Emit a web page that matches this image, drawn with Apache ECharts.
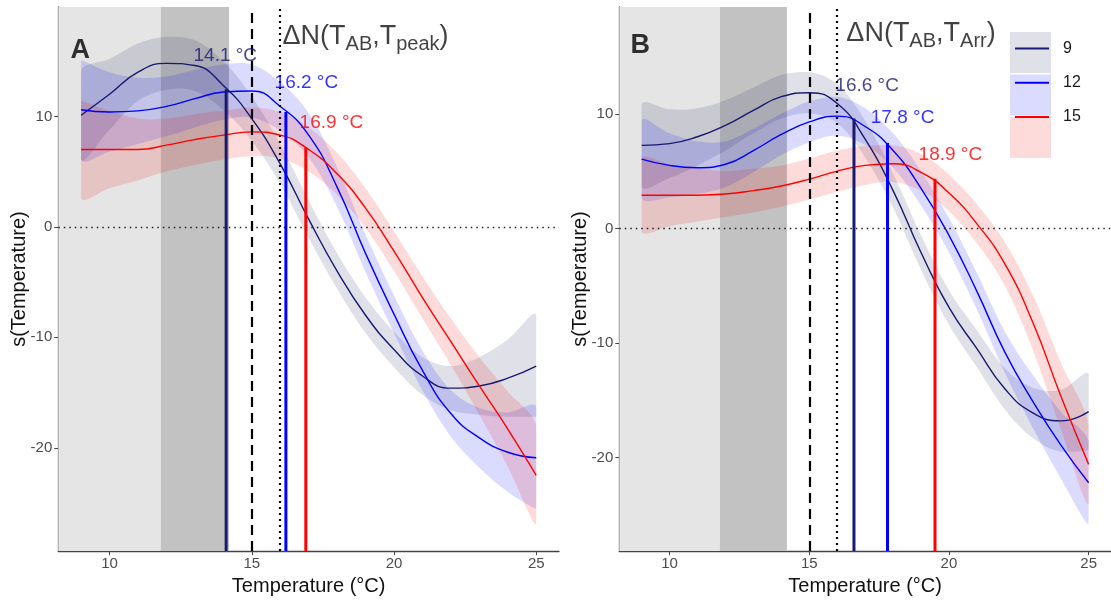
<!DOCTYPE html>
<html><head><meta charset="utf-8">
<script src="https://cdn.jsdelivr.net/npm/echarts@6/dist/echarts.min.js"></script>
<style>html,body{margin:0;padding:0;background:#fff}#c{width:1111px;height:601px}</style>
</head><body><div id="c"></div>
<script>
// ---------------- data ----------------
const temps = [9,10,11,12,13,14,15,16,17,18,19,20,21,22,23,24,25];
const groups = ['9','12','15'];

// Panel A: ΔN(T_AB, T_peak)
const fitA_9  = [10.1, 12.0, 14.0, 14.8, 14.6, 12.8, 9.8, 5.7, 0.7, -4.0, -8.0, -11.1, -13.5, -14.6, -14.4, -13.7, -12.6];
const fitA_12 = [10.6, 10.4, 10.5, 10.9, 11.6, 12.2, 12.3, 10.9, 8.3, 3.6, -2.4, -7.9, -13.0, -16.9, -19.1, -20.4, -20.9];
const fitA_15 = [7.0, 7.0, 7.0, 7.4, 7.9, 8.3, 8.6, 8.3, 7.0, 4.8, 1.7, -2.2, -6.4, -10.4, -14.4, -18.3, -22.5];
const seA_9   = [4.0, 3.2, 2.6, 2.4, 2.3, 2.2, 2.0, 1.8, 1.7, 1.6, 1.6, 1.6, 1.7, 2.0, 2.6, 3.5, 4.6];
const seA_12  = [4.5, 3.6, 3.0, 2.7, 2.6, 2.5, 2.4, 2.2, 2.0, 1.8, 1.7, 1.7, 1.8, 2.1, 2.7, 3.6, 4.6];
const seA_15  = [4.4, 3.5, 2.8, 2.4, 2.3, 2.2, 2.2, 2.1, 2.0, 1.9, 1.8, 1.8, 1.9, 2.1, 2.6, 3.4, 4.5];
const peakT_A = [14.1, 16.2, 16.9];
const peakS_A = [12.45, 10.4, 7.2];
const peakLabel_A = ['14.1 °C', '16.2 °C', '16.9 °C'];
const peakLabelX_A = [14.07, 16.92, 17.8];
const peakLabelY_A = [15.5, 13.0, 9.4];

// Panel B: ΔN(T_AB, T_Arr)
const fitB_9  = [7.25, 7.4, 8.0, 9.0, 10.3, 11.5, 11.85, 10.9, 7.8, 3.3, -2.1, -6.9, -10.5, -14.0, -16.1, -16.8, -16.0];
const fitB_12 = [6.05, 5.5, 5.3, 5.6, 6.8, 8.2, 9.3, 9.8, 8.9, 6.8, 3.5, -0.6, -5.5, -10.8, -15.1, -18.9, -22.2];
const fitB_15 = [2.9, 2.9, 2.9, 3.0, 3.3, 3.7, 4.3, 5.0, 5.5, 5.65, 4.9, 3.1, 0.4, -3.1, -8.2, -14.6, -20.6];
const seB_9   = [3.6, 3.0, 2.5, 2.2, 2.0, 1.9, 1.8, 1.7, 1.6, 1.5, 1.5, 1.5, 1.6, 1.8, 2.2, 2.7, 3.3];
const seB_12  = [3.4, 2.8, 2.3, 2.0, 1.9, 1.8, 1.8, 1.7, 1.6, 1.5, 1.5, 1.5, 1.6, 1.8, 2.3, 2.9, 3.6];
const seB_15  = [3.2, 2.7, 2.3, 2.0, 1.9, 1.8, 1.8, 1.8, 1.7, 1.6, 1.6, 1.6, 1.7, 1.9, 2.4, 2.9, 3.5];
const peakT_B = [16.6, 17.8, 19.5];
const peakS_B = [9.6, 7.46, 4.34];
const peakLabel_B = ['16.6 °C', '17.8 °C', '18.9 °C'];
const peakLabelX_B = [17.07, 18.34, 20.05];
const peakLabelY_B = [12.45, 9.7, 6.4];

// reference lines / shaded windows (temperature)
const refDashed = 15;
const refDotted = 16;
const shadeLight = [8.2, 11.8];
const shadeDark = [11.8, 14.2];
const xTicks = [10, 15, 20, 25];
const yTicks = [-20, -10, 0, 10];

// ---------------- style ----------------
const FONT = 'Liberation Sans, Arial, Helvetica, sans-serif';
const lineColors = ['#191970', '#0000FF', '#FF0000'];
const ribbonColors = ['rgba(30,35,90,0.14)', 'rgba(0,0,255,0.14)', 'rgba(240,0,0,0.14)'];

const panels = [
  { grid: {left: 58.3, right: 552, top: 7, bottom: 47.7}, xMin: 8.2, xMax: 25.8, yMin: -29.35, yMax: 19.9,
    fits: [fitA_9, fitA_12, fitA_15], ses: [seA_9, seA_12, seA_15],
    pT: peakT_A, pS: peakS_A, pLab: peakLabel_A, pLX: peakLabelX_A, pLY: peakLabelY_A,
    letter: 'A', letterPos: [8.97, 16.0], annot: '{m|ΔN(T}{s|AB}{m|,T}{s|peak}{m|)}', annotPos: [19.0, 17.2] },
  { grid: {left: 619.3, right: -8, top: 7, bottom: 47.7}, xMin: 8.2, xMax: 25.8, yMin: -28.17, yMax: 19.33,
    fits: [fitB_9, fitB_12, fitB_15], ses: [seB_9, seB_12, seB_15],
    pT: peakT_B, pS: peakS_B, pLab: peakLabel_B, pLX: peakLabelX_B, pLY: peakLabelY_B,
    letter: 'B', letterPos: [8.95, 16.0], annot: '{m|ΔN(T}{s|AB}{m|,T}{s|Arr}{m|)}', annotPos: [19.0, 17.0] }
];

function ribbon(p, k, P) {
  const fit = P.fits[k], se = P.ses[k];
  const rows = temps.map((t, i) => [t, fit[i] - se[i], fit[i] + se[i]]);
  return {
    type: 'custom', xAxisIndex: p, yAxisIndex: p, name: 'ci' + groups[k],
    color: ribbonColors[k], itemStyle: {color: ribbonColors[k]},
    data: rows, encode: {x: 0, y: [1, 2]}, silent: true, z: 2, clip: true,
    renderItem: function (params, api) {
      if (params.dataIndex !== 0) return null;
      const pts = [];
      for (let i = 0; i < rows.length; i++) pts.push(api.coord([rows[i][0], rows[i][2]]));
      for (let i = rows.length - 1; i >= 0; i--) pts.push(api.coord([rows[i][0], rows[i][1]]));
      return {type: 'polygon', shape: {points: pts, smooth: 0.35, smoothConstraint: [pts[0], pts[0]]},
              style: {fill: ribbonColors[k], stroke: null}};
    }
  };
}

const grids = [], xAxes = [], yAxes = [], series = [];
panels.forEach((P, p) => {
  grids.push(P.grid);
  xAxes.push({
    type: 'value', gridIndex: p, min: P.xMin, max: P.xMax,
    name: 'Temperature (°C)', nameLocation: 'middle', nameGap: 22,
    nameTextStyle: {fontFamily: FONT, fontSize: 20, color: '#111'},
    axisLine: {show: true, onZero: false, lineStyle: {color: '#444', width: 1.3}},
    axisTick: {show: true, length: 4, lineStyle: {color: '#444'}, customValues: xTicks},
    axisLabel: {fontFamily: FONT, fontSize: 15, color: '#4d4d4d', margin: 5, customValues: xTicks},
    splitLine: {show: false}
  });
  yAxes.push({
    type: 'value', gridIndex: p, min: P.yMin, max: P.yMax,
    name: 's(Temperature)', nameLocation: 'middle', nameGap: 29, nameMoveOverlap: false,
    nameTextStyle: {fontFamily: FONT, fontSize: 20, color: '#111'},
    axisLine: {show: true, onZero: false, lineStyle: {color: '#444', width: 1.3}},
    axisTick: {show: true, length: 4, lineStyle: {color: '#444'}, customValues: yTicks},
    axisLabel: {fontFamily: FONT, fontSize: 15, color: '#4d4d4d', margin: 6, customValues: yTicks},
    splitLine: {show: false}
  });
  // shaded windows
  series.push({
    type: 'line', xAxisIndex: p, yAxisIndex: p, data: [[P.xMin, 0]], symbol: 'none',
    lineStyle: {opacity: 0}, silent: true, z: 0,
    markArea: {silent: true, data: [
      [{xAxis: shadeLight[0], itemStyle: {color: '#e5e5e5'}}, {xAxis: shadeLight[1]}],
      [{xAxis: shadeDark[0], itemStyle: {color: '#c2c2c2'}}, {xAxis: shadeDark[1]}]
    ]}
  });
  // ribbons
  groups.forEach((g, k) => series.push(ribbon(p, k, P)));
  // fitted curves
  groups.forEach((g, k) => {
    series.push({
      type: 'line', xAxisIndex: p, yAxisIndex: p, name: g,
      data: temps.map((t, i) => [t, P.fits[k][i]]),
      smooth: true, symbol: 'none', color: lineColors[k],
      lineStyle: {color: lineColors[k], width: 1.4}, silent: true, z: 3
    });
  });
  // reference lines
  series.push({
    type: 'line', xAxisIndex: p, yAxisIndex: p, data: [[P.xMin, 0]], symbol: 'none',
    lineStyle: {opacity: 0}, silent: true, z: 4,
    markLine: {silent: true, symbol: 'none', label: {show: false}, animation: false, data: [
      {yAxis: 0, lineStyle: {color: '#222', type: [1.5, 4], width: 1.4}},
      {xAxis: refDashed, lineStyle: {color: '#000', type: [10, 6], width: 2.2}},
      {xAxis: refDotted, lineStyle: {color: '#000', type: [2, 4], width: 2.2}}
    ]}
  });
  // peak verticals
  groups.forEach((g, k) => {
    series.push({
      type: 'line', xAxisIndex: p, yAxisIndex: p,
      data: [[P.pT[k], P.yMin], [P.pT[k], P.pS[k]]],
      symbol: 'none', lineStyle: {color: lineColors[k], width: 3}, silent: true, z: 4
    });
  });
  // text labels
  const labData = groups.map((g, k) => ({
    value: [P.pLX[k], P.pLY[k]], name: P.pLab[k],
    label: {color: lineColors[k]}
  }));
  labData.push({value: P.letterPos, name: P.letter,
    label: {formatter: '{b|' + P.letter + '}'}});
  labData.push({value: P.annotPos, name: 'annot', label: {formatter: P.annot}});
  series.push({
    type: 'scatter', xAxisIndex: p, yAxisIndex: p, symbolSize: 0, silent: true, z: 6,
    data: labData,
    label: {show: true, position: 'inside', formatter: '{b}', fontFamily: FONT, fontSize: 19,
      rich: {
        b: {fontFamily: FONT, fontSize: 27, fontWeight: 'bold', color: '#000'},
        m: {fontFamily: FONT, fontSize: 27, color: '#111'},
        s: {fontFamily: FONT, fontSize: 20, color: '#111', padding: [15, 0, 0, 0]}
      }}
  });
});

const chart = echarts.init(document.getElementById('c'), null, {renderer: 'canvas'});
chart.setOption({
  animation: false,
  backgroundColor: '#fff',
  grid: grids, xAxis: xAxes, yAxis: yAxes, series: series,
  legend: [
    {data: groups.map(g => 'ci' + g), orient: 'vertical', left: 1010, top: 32, padding: 0,
     itemWidth: 41, itemHeight: 41, itemGap: 1.5, icon: 'rect', selectedMode: false,
     formatter: () => '', itemStyle: {opacity: 1, borderWidth: 0}},
    {data: groups, orient: 'vertical', left: 1014, top: 32, padding: 0,
     itemWidth: 34, itemHeight: 41, itemGap: 1.5, selectedMode: false,
     lineStyle: {width: 2}, itemStyle: {opacity: 0},
     textStyle: {fontFamily: FONT, fontSize: 16, color: '#1a1a1a', padding: [0, 0, 0, 9]}}
  ]
});
</script></body></html>
